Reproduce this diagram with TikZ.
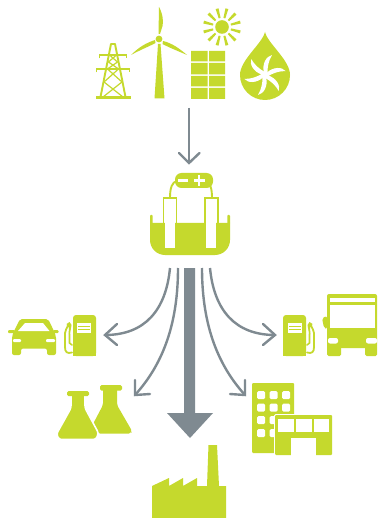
\documentclass[tikz,border=0pt]{standalone}
\usetikzlibrary{calc}
\definecolor{lime}{HTML}{C5D92D}
\definecolor{steel}{HTML}{7F8A91}
\tikzset{
  x=1pt,y=-1pt,
  thinarrow/.style={draw=steel,line width=2.4pt,line cap=round,line join=miter},
}
\newcommand{\pumpicon}[2]{% x of body left, direction of hose (+1/-1)
  \begin{scope}[shift={(#1,0)},xscale=#2]
    \fill[lime,rounded corners=3pt] (0,356)--(0,315)--(23,315)--(23,356)--cycle;
    \fill[lime] (0,350) rectangle (23,356);
    \fill[white] (4,323) rectangle (18,333);
    \fill[lime] (5,326.2) rectangle (17,327.4);
    \fill[lime] (5,329.2) rectangle (17,330.4);
    \draw[lime,line width=1.8pt,line join=round,line cap=round]
      (-1,352.5) .. controls (-6,354) and (-8,352) .. (-8,347) -- (-8,333)
      .. controls (-8,330) and (-6,329) .. (-5,325);
    \fill[lime] (-6.5,324) -- (-3.5,322) -- (-1.5,325) -- (-3,334) -- (-4.5,334) -- (-4,328) -- cycle;
    \draw[lime,line width=1.6pt,line cap=round] (-3.5,334) -- (-3.5,343) -- (-1,345);
  \end{scope}
}
\begin{document}
\begin{tikzpicture}
\useasboundingbox (0,0) rectangle (377,518);
\fill[white] (0,0) rectangle (377,518);

% ---- pylon
\begin{scope}[lime]
\draw[line width=1.9pt,line join=round] (100.5,97) -- (111,44) -- (115,44) -- (125.5,97);
\fill (96,96.5) rectangle (131,99.5);
\draw[line width=1.6pt] (99.5,58.5) -- (99.5,55) -- (126.5,55) -- (126.5,58.5);
\draw[line width=1.6pt] (96.5,72.5) -- (96.5,69) -- (129.5,69) -- (129.5,72.5);
\draw[line width=1.2pt] (109.5,55) -- (117.5,62) -- (107.5,69) -- (122,82) -- (103,97);
\draw[line width=1.2pt] (116.5,55) -- (108.5,62) -- (118.5,69) -- (104,82) -- (123,97);
\end{scope}

% ---- wind turbine
\fill[lime] (154.5,98.5) -- (158,44) -- (160.5,44) -- (164.5,98.5) -- cycle;
\fill[lime] (159,39) circle (3.4);
\fill[lime] (159,7) .. controls (163,14) and (163.5,22) .. (162.5,26) -- (160,34) -- (158.5,34) -- cycle;
\fill[lime] (131,55) .. controls (139,47) and (146,43) .. (155,40) -- (155.5,43) .. controls (150,46) and (140,50) .. (131,55) -- cycle;
\fill[lime] (187,55) .. controls (180,49) and (172,43) .. (163,41) -- (162.5,44) .. controls (170,48) and (178,51) .. (187,55) -- cycle;

% ---- solar panel
\fill[lime] (191,51) rectangle (207.5,61.5) (209,51) rectangle (225,61.5);
\fill[lime] (191,63) rectangle (207.5,74.5) (209,63) rectangle (225,74.5);
\fill[lime] (191,76) rectangle (207.5,86.5) (209,76) rectangle (225,86.5);
\fill[lime] (191,88) rectangle (207.5,99) (209,88) rectangle (225,99);

% ---- sun
\fill[lime] (222,27) circle (6.8);
\foreach \a in {15,45,...,345}{
  \fill[lime] ($(222,27)+(\a-6:9.2)$) -- ($(222,27)+(\a+6:9.2)$) -- ($(222,27)+(\a+4.5:19)$) -- ($(222,27)+(\a-4.5:19)$) -- cycle;
}

% ---- drop with fan
\fill[lime] (265,32) .. controls (262,44) and (240,60) .. (240,75)
   arc[start angle=180,end angle=0,radius=25]
   .. controls (290,60) and (268,44) .. (265,32) -- cycle;
\foreach \a in {8,68,...,308}{
  \begin{scope}[shift={(265,75)},rotate=\a]
    \fill[white] (2,-2) .. controls (9,-7) and (18,-6) .. (21,-1) .. controls (15,-2) and (8,-1) .. (2,2) -- cycle;
  \end{scope}
}
\fill[white] (265,75) circle (3.2);

% ---- top arrow
\coordinate (srcEnd) at (189,108);
\coordinate (batTop) at (189,163);
\coordinate (batL) at (179,153);
\coordinate (batR) at (199.5,153);
\draw[thinarrow,line cap=butt] (srcEnd) -- (batTop);
\draw[thinarrow] (batL) -- (batTop) -- (batR);

% ---- battery
\fill[lime] (150,223) -- (230,223) -- (230,240) arc[start angle=0,end angle=90,radius=15] -- (165,255) arc[start angle=90,end angle=180,radius=15] -- cycle;
\fill[lime,rounded corners=.8pt] (150,215) rectangle (152.6,224);
\fill[lime,rounded corners=.8pt] (227.4,215) rectangle (230,224);
\fill[white] (165,197) rectangle (175,248);
\fill[white] (206,197) rectangle (216,248);
\draw[lime,line width=1.9pt] (163.5,223.5) -- (163.5,197.7) -- (176.5,197.7) -- (176.5,223.5);
\draw[lime,line width=1.9pt] (205,223.5) -- (205,197.7) -- (218,197.7) -- (218,223.5);
\draw[lime,line width=1.9pt] (170,197.7) .. controls (170,188) and (172,182) .. (177,181);
\draw[lime,line width=1.9pt] (212,197.7) .. controls (212,188) and (210,182) .. (205,181);
\fill[lime,rounded corners=6.5pt] (175,173) rectangle (213,188);
\fill[white] (178,179.5) rectangle (188,182);
\fill[white] (193.5,179.5) rectangle (204.5,182);
\fill[white] (197.8,175.5) rectangle (200.2,186);

% ---- fan of arrows
\coordinate (a1s) at (170,268); \coordinate (a1e) at (105,335);
\coordinate (a2s) at (178,268); \coordinate (a2e) at (135,395);
\coordinate (a3s) at (202,268); \coordinate (a3e) at (245,395);
\coordinate (a4s) at (210,268); \coordinate (a4e) at (275,335);
\draw[thinarrow,line cap=butt] (a1s) .. controls (166,310) and (145,335) .. (a1e);
\draw[thinarrow] (117,324) -- (a1e) -- (117,345);
\draw[thinarrow,line cap=butt] (a2s) .. controls (178,320) and (165,362) .. (a2e);
\draw[thinarrow] (135,380) -- (a2e) -- (150,394);
\draw[thinarrow,line cap=butt] (a3s) .. controls (202,320) and (215,362) .. (a3e);
\draw[thinarrow] (245,380) -- (a3e) -- (230,394);
\draw[thinarrow,line cap=butt] (a4s) .. controls (214,310) and (235,335) .. (a4e);
\draw[thinarrow] (263,324) -- (a4e) -- (263,345);

% ---- big arrow
\coordinate (bigS) at (189.5,268);
\fill[steel] (184,268) -- (195,268) -- (195,413) -- (213,413) -- (190,438) -- (167,413) -- (184,413) -- cycle;

% ---- car
\fill[lime,rounded corners=2pt] (20,319) -- (48,319) -- (53,329) -- (56,336) -- (56,355) -- (47,355) -- (47,348.5) -- (21,348.5) -- (21,355) -- (12,355) -- (12,336) -- (15,329) -- cycle;
\fill[lime,rounded corners=1pt] (8,330) rectangle (15,333);
\fill[lime,rounded corners=1pt] (53,330) rectangle (58.5,333);
\fill[white] (18,331) -- (25,323) -- (43,323) -- (49.5,331) -- cycle;
\fill[white,rounded corners=1pt] (13,339) rectangle (21,342);
\fill[white,rounded corners=1pt] (46,339) rectangle (55,342);

% ---- pumps
\pumpicon{73}{1}
\pumpicon{306}{-1}

% ---- bus
\fill[lime,rounded corners=2pt] (327,294) rectangle (377,348);
\fill[lime,rounded corners=1.5pt] (327,345) rectangle (341,356);
\fill[lime,rounded corners=1.5pt] (365,345) rectangle (377,356);
\fill[lime,rounded corners=2pt] (322,318) -- (327,316) -- (327,329) -- (324,328) -- cycle;
\fill[white] (330,297.5) rectangle (375,302);
\fill[white] (330,304.5) rectangle (375,328);
\fill[white,rounded corners=2pt] (328,338) rectangle (338,343.5);
\fill[white,rounded corners=2pt] (366,338) rectangle (377,343.5);

% ---- flasks
\fill[lime,rounded corners=1.5pt] (100,385) rectangle (122,390.5);
\fill[lime,rounded corners=2pt] (103,388) -- (117,388) -- (117,405) -- (132,431) -- (131,433.5) -- (98,433.5) -- (93,424) -- (103,405) -- cycle;
\draw[white,line width=1.6pt,fill=lime,rounded corners=2.5pt] (71,394) -- (85,394) -- (85,408) -- (98.5,433) -- (96,439.5) -- (59,439.5) -- (56.5,434) -- (71,408) -- cycle;
\fill[lime,rounded corners=1.5pt] (67,391) rectangle (89,396);

% ---- buildings
\fill[lime,rounded corners=1pt] (252,383) rectangle (294,453);
\foreach \cx in {257,269.5,282}{\foreach \cy in {391,403.5,416,429}{
  \fill[white,rounded corners=1.5pt] (\cx,\cy) rectangle ++(8.2,8.2);
}}
\fill[white,rounded corners=1.5pt] (274,414) rectangle (333,456);
\fill[lime,rounded corners=1pt] (275,415) rectangle (332,455);
\fill[white] (278,419) rectangle (294,432);
\fill[white] (296,419) rectangle (312,432);
\fill[white] (313.5,419) rectangle (329,432);
\fill[white] (291,438) rectangle (316,456);

% ---- factory
\fill[lime] (152,518) -- (152,486) -- (169,478) -- (169,486) -- (183,478) -- (183,486) -- (197,478) -- (197,486) -- (207,486) -- (208.5,445) -- (217,445) -- (219,486) -- (226,486) -- (226,518) -- cycle;
\end{tikzpicture}
\end{document}
